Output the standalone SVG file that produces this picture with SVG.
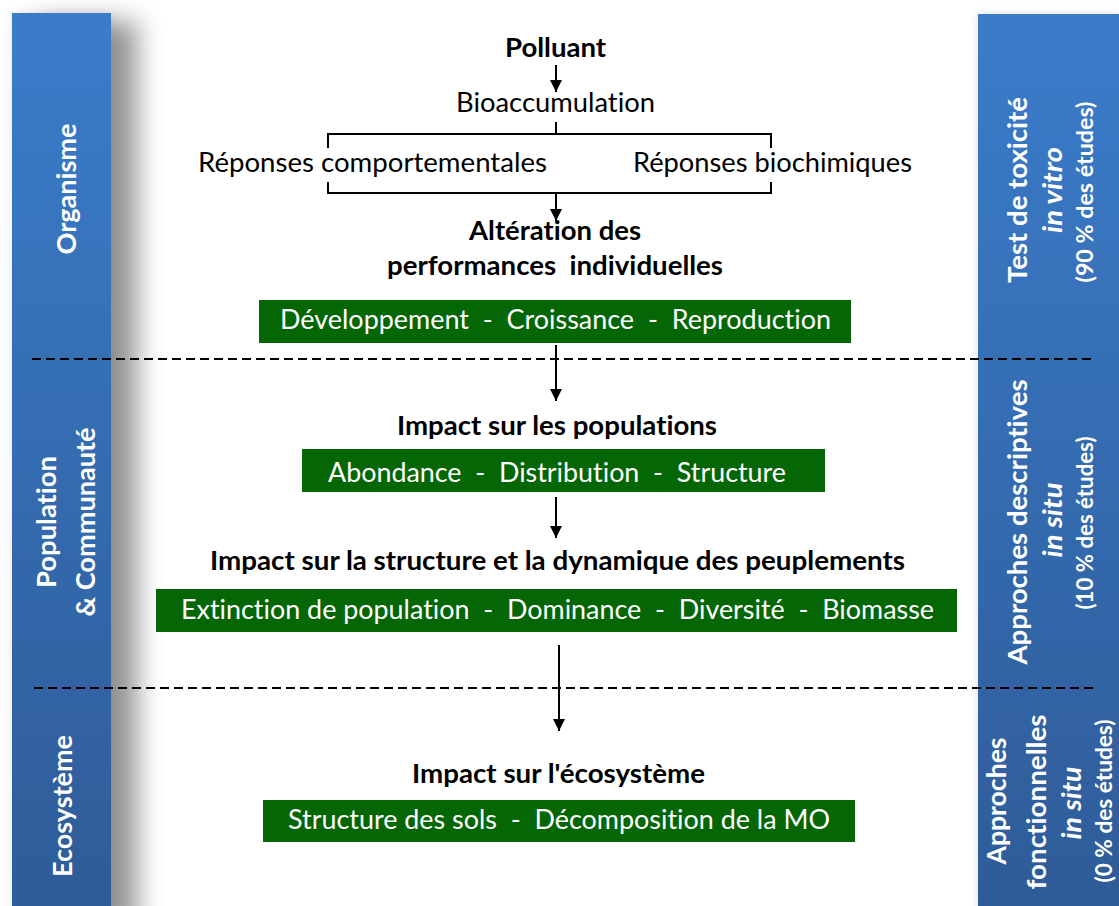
<svg xmlns="http://www.w3.org/2000/svg" width="1119" height="906" viewBox="0 0 1119 906">
  <style>
    text { font-family: Lato, "Liberation Sans", sans-serif; white-space: pre; font-variant-ligatures: none; }
    .t { font-size: 26px; fill: #000; }
    .b { font-size: 26px; font-weight: bold; fill: #000; }
    .w { font-size: 26px; fill: #fff; }
    .side { font-size: 27px; font-weight: bold; fill: #fff; }
    .sidei { font-size: 27px; font-weight: bold; font-style: italic; fill: #fff; }
    .pct { font-size: 22px; font-weight: bold; fill: #fff; }
    .box { fill: #056605; }
    .link { stroke: #000; stroke-width: 2; fill: none; }
    .dash { stroke: #000; stroke-width: 2; stroke-dasharray: 9 5; fill: none; }
  </style>
  <defs>
    <linearGradient id="barFill" x1="0" y1="0" x2="0" y2="1">
      <stop offset="0" stop-color="#3b7cca"/>
      <stop offset="1" stop-color="#2e5b97"/>
    </linearGradient>
    <filter id="leftShadow" x="-20%" y="-5%" width="200%" height="110%">
      <feGaussianBlur in="SourceAlpha" stdDeviation="13" result="blur"/>
      <feOffset in="blur" dx="26" dy="8" result="off"/>
      <feFlood flood-color="#000" flood-opacity="0.42"/>
      <feComposite in2="off" operator="in" result="drop"/>
      <feGaussianBlur in="SourceAlpha" stdDeviation="6" result="g"/>
      <feFlood flood-color="#000" flood-opacity="0.1"/>
      <feComposite in2="g" operator="in" result="glow"/>
      <feMerge>
        <feMergeNode in="glow"/>
        <feMergeNode in="drop"/>
        <feMergeNode in="SourceGraphic"/>
      </feMerge>
    </filter>
    <filter id="rightGlow" x="-20%" y="-5%" width="140%" height="110%">
      <feGaussianBlur in="SourceAlpha" stdDeviation="5" result="g"/>
      <feFlood flood-color="#000" flood-opacity="0.12"/>
      <feComposite in2="g" operator="in" result="glow"/>
      <feMerge>
        <feMergeNode in="glow"/>
        <feMergeNode in="SourceGraphic"/>
      </feMerge>
    </filter>
    <marker id="head" markerUnits="userSpaceOnUse" markerWidth="12" markerHeight="14" refX="12" refY="6" orient="auto" viewBox="0 0 12 12">
      <path d="M0,0 L12,6 L0,12 z" fill="#000"/>
    </marker>
  </defs>

  <rect width="1119" height="906" fill="#fff"/>

  <!-- level bar on the left -->
  <g id="levels">
    <rect x="12" y="13" width="99" height="910" fill="url(#barFill)" filter="url(#leftShadow)"/>
    <text class="side" transform="translate(76,189) rotate(-90)" x="-65.5" textLength="131" lengthAdjust="spacingAndGlyphs">Organisme</text>
    <text class="side" transform="translate(56,522) rotate(-90)" x="-66" textLength="132" lengthAdjust="spacingAndGlyphs">Population</text>
    <text class="side" transform="translate(95,522) rotate(-90)" x="-94.5" textLength="189" lengthAdjust="spacingAndGlyphs">&amp; Communauté</text>
    <text class="side" transform="translate(72,806) rotate(-90)" x="-71" textLength="142" lengthAdjust="spacingAndGlyphs">Ecosystème</text>
  </g>

  <!-- approach bar on the right -->
  <g id="approaches">
    <rect x="978" y="14" width="145" height="910" fill="url(#barFill)" filter="url(#rightGlow)"/>
    <text class="side" transform="translate(1027,190) rotate(-90)" x="-93" textLength="186" lengthAdjust="spacingAndGlyphs">Test de toxicité</text>
    <text class="sidei" transform="translate(1062,190) rotate(-90)" x="-43" textLength="86" lengthAdjust="spacingAndGlyphs">in vitro</text>
    <text class="pct" transform="translate(1093,192) rotate(-90)" x="-90.5" textLength="181" lengthAdjust="spacingAndGlyphs">(90 % des études)</text>

    <text class="side" transform="translate(1027,522) rotate(-90)" x="-142.5" textLength="285" lengthAdjust="spacingAndGlyphs">Approches descriptives</text>
    <text class="sidei" transform="translate(1062,520) rotate(-90)" x="-37.5" textLength="75" lengthAdjust="spacingAndGlyphs">in situ</text>
    <text class="pct" transform="translate(1093,523) rotate(-90)" x="-86.5" textLength="173" lengthAdjust="spacingAndGlyphs">(10 % des études)</text>

    <text class="side" transform="translate(1006,801) rotate(-90)" x="-63.5" textLength="127" lengthAdjust="spacingAndGlyphs">Approches</text>
    <text class="side" transform="translate(1046,802) rotate(-90)" x="-87.5" textLength="175" lengthAdjust="spacingAndGlyphs">fonctionnelles</text>
    <text class="sidei" transform="translate(1081,803) rotate(-90)" x="-36.5" textLength="73" lengthAdjust="spacingAndGlyphs">in situ</text>
    <text class="pct" transform="translate(1112,801) rotate(-90)" x="-81.5" textLength="163" lengthAdjust="spacingAndGlyphs">(0 % des études)</text>
  </g>

  <!-- level separators -->
  <g id="separators">
    <line class="dash" x1="32" y1="359" x2="1092" y2="359"/>
    <line class="dash" x1="34" y1="688" x2="1094" y2="688"/>
  </g>

  <!-- connectors -->
  <g id="connectors">
    <line class="link" x1="556" y1="65" x2="556" y2="92" marker-end="url(#head)"/>
    <path class="link" d="M556,122 V134 M328,148 V134 H771 V148 M328,182 V193 H771 V182"/>
    <line class="link" x1="556" y1="193" x2="556" y2="221" marker-end="url(#head)"/>
    <line class="link" x1="556" y1="345" x2="556" y2="401" marker-end="url(#head)"/>
    <line class="link" x1="556" y1="497" x2="556" y2="538" marker-end="url(#head)"/>
    <line class="link" x1="559" y1="645" x2="559" y2="731" marker-end="url(#head)"/>
  </g>

  <!-- organism level -->
  <g id="polluant">
    <text class="b" x="505" y="57" textLength="101" lengthAdjust="spacingAndGlyphs">Polluant</text>
  </g>
  <g id="bioaccumulation">
    <text class="t" x="456" y="112" textLength="199" lengthAdjust="spacingAndGlyphs">Bioaccumulation</text>
  </g>
  <g id="reponses">
    <text class="t" x="198" y="172" textLength="349" lengthAdjust="spacingAndGlyphs">Réponses comportementales</text>
    <text class="t" x="633" y="172" textLength="279" lengthAdjust="spacingAndGlyphs">Réponses biochimiques</text>
  </g>
  <g id="performances">
    <text class="b" x="469" y="240" textLength="172" lengthAdjust="spacingAndGlyphs">Altération des</text>
    <text class="b" x="387" y="275" textLength="336" lengthAdjust="spacingAndGlyphs">performances  individuelles</text>
    <rect class="box" x="259" y="300" width="592" height="43"/>
    <text class="w" x="280" y="329" textLength="551" lengthAdjust="spacingAndGlyphs">Développement  -  Croissance  -  Reproduction</text>
  </g>

  <!-- population & community level -->
  <g id="populations">
    <text class="b" x="397" y="435" textLength="320" lengthAdjust="spacingAndGlyphs">Impact sur les populations</text>
    <rect class="box" x="302" y="449" width="523" height="43"/>
    <text class="w" x="328" y="482" textLength="458" lengthAdjust="spacingAndGlyphs">Abondance  -  Distribution  -  Structure</text>
  </g>
  <g id="peuplements">
    <text class="b" x="210" y="570" textLength="695" lengthAdjust="spacingAndGlyphs">Impact sur la structure et la dynamique des peuplements</text>
    <rect class="box" x="156" y="589" width="801" height="43"/>
    <text class="w" x="181" y="619" textLength="753" lengthAdjust="spacingAndGlyphs">Extinction de population  -  Dominance  -  Diversité  -  Biomasse</text>
  </g>

  <!-- ecosystem level -->
  <g id="ecosysteme">
    <text class="b" x="412" y="783" textLength="293" lengthAdjust="spacingAndGlyphs">Impact sur l'écosystème</text>
    <rect class="box" x="263" y="800" width="592" height="42"/>
    <text class="w" x="288" y="829" textLength="542" lengthAdjust="spacingAndGlyphs">Structure des sols  -  Décomposition de la MO</text>
  </g>
</svg>
